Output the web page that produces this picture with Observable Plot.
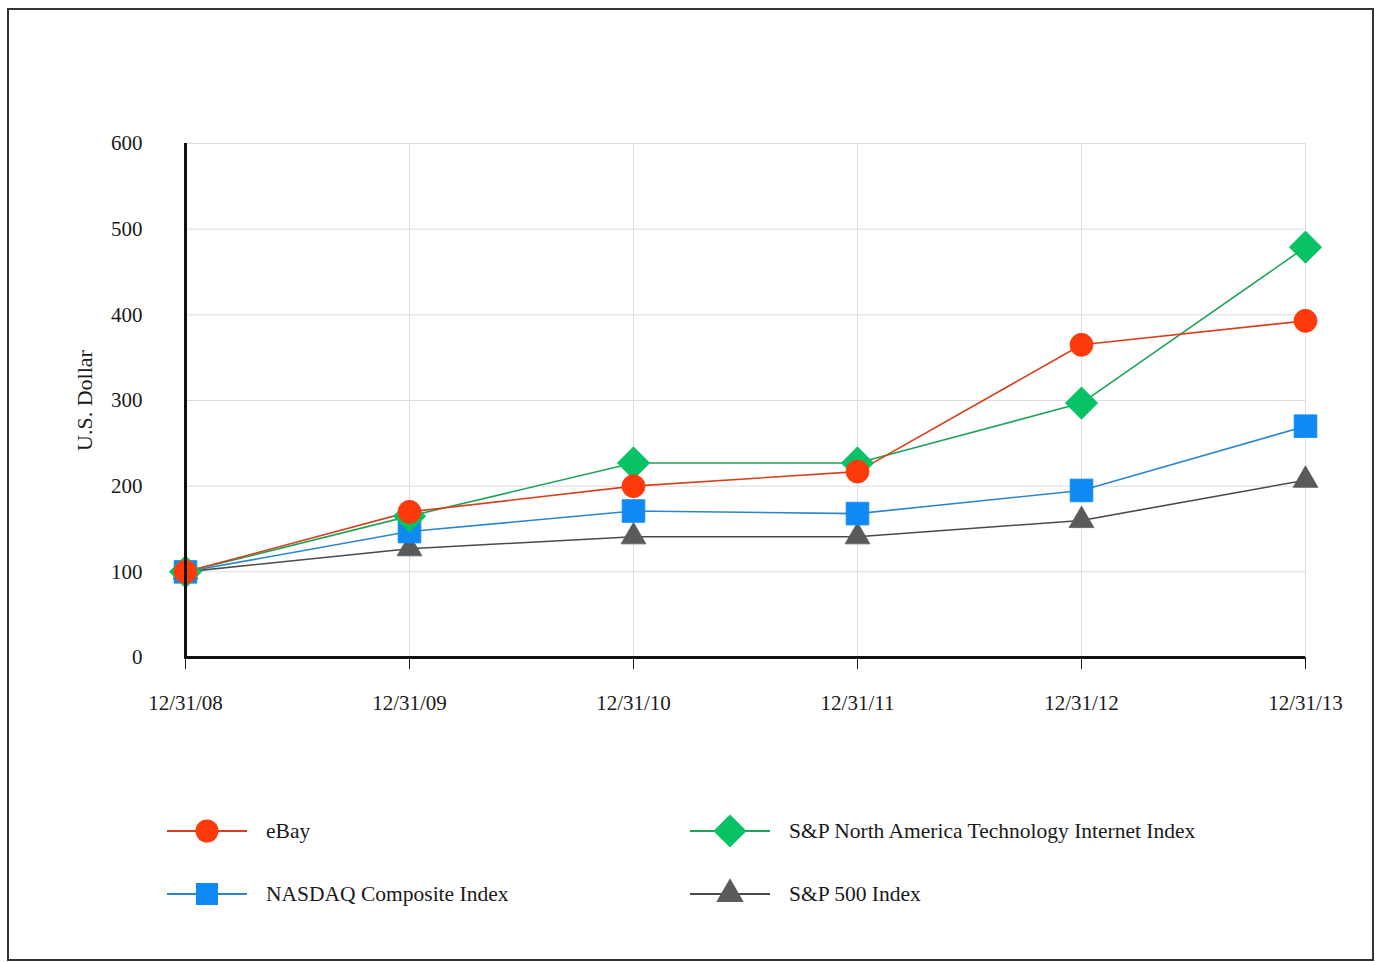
<!DOCTYPE html>
<html>
<head>
<meta charset="utf-8">
<script src="https://cdn.jsdelivr.net/npm/d3@7"></script>
<script src="https://cdn.jsdelivr.net/npm/@observablehq/plot@0.6"></script>
<style>
  html, body { margin: 0; padding: 0; background: #fff; }
  body { width: 1375px; height: 962px; position: relative; overflow: hidden; font-family: "Liberation Serif", "DejaVu Serif", serif; color: #1a1a1a; }
  #frame { position: absolute; left: 7px; top: 8px; width: 1367px; height: 953px; border: 2px solid #333; box-sizing: border-box; }
  #chart { position: absolute; left: 0; top: 0; }
  .leg { position: absolute; display: flex; align-items: center; font-size: 21.5px; }
  .leg svg { display: block; margin-right: 19px; }
</style>
</head>
<body>
<div id="frame"></div>
<div id="chart"></div>
<div id="legend"></div>
<script>
const dates = ["12/31/08", "12/31/09", "12/31/10", "12/31/11", "12/31/12", "12/31/13"];
const seriesNames = ["eBay", "NASDAQ Composite Index", "S&P North America Technology Internet Index", "S&P 500 Index"];
const ebay = [100, 170, 200, 217, 365, 393];
const nasdaq = [100, 147, 171, 168, 195, 270];
const techInternet = [100, 165, 227, 227, 297, 479];
const sp500 = [100, 127, 141, 141, 160, 207];
const yTicks = [0, 100, 200, 300, 400, 500, 600];
const lineColors = ["#d8401c", "#2b86cc", "#1fa35c", "#4a4a4a"];
const markColors = ["#ff3a0a", "#0f8af5", "#06c264", "#5a5a5a"];

const diamond = {
  draw(context, size) {
    const d = Math.sqrt(size / 2);
    context.moveTo(0, -d); context.lineTo(d, 0); context.lineTo(0, d); context.lineTo(-d, 0); context.closePath();
  }
};
const symbols = ["circle", "square", diamond, "triangle"];
const radii = [11.5, 12.8, 12.9, 9.2];

const values = [ebay, nasdaq, techInternet, sp500];
// draw order: S&P 500, NASDAQ, Tech Internet, eBay on top
const order = [3, 1, 2, 0];
const rows = [];
for (const i of order) {
  dates.forEach((d, j) => rows.push({date: d, value: values[i][j], series: seriesNames[i], k: i}));
}

const marks = [
  Plot.ruleX(dates, {y1: 0, y2: 600, stroke: "#dcdcdc", strokeWidth: 1}),
  Plot.ruleY(yTicks.filter(v => v > 0), {stroke: "#dcdcdc", strokeWidth: 1}),
  Plot.axisY({ticks: yTicks, tickSize: 12, tickPadding: 30, label: "U.S. Dollar", labelAnchor: "center", labelArrow: "none", labelOffset: 108, fontSize: 21, stroke: null}),
  Plot.axisX({tickSize: 12, tickPadding: 26, label: null, fontSize: 21}),
];
for (const i of order) {
  const data = rows.filter(r => r.k === i);
  marks.push(Plot.line(data, {x: "date", y: "value", stroke: lineColors[i], strokeWidth: 1.6}));
}
for (const i of order) {
  const data = rows.filter(r => r.k === i);
  marks.push(Plot.dot(data, {x: "date", y: "value", symbol: () => symbols[i], r: radii[i], fill: markColors[i], stroke: markColors[i], strokeWidth: 0.8}));
}
marks.push(Plot.ruleX([dates[0]], {y1: 0, y2: 600, stroke: "#111", strokeWidth: 3}));
marks.push(Plot.ruleY([0], {stroke: "#111", strokeWidth: 3}));

const chart = Plot.plot({
  width: 1375,
  height: 760,
  marginLeft: 184,
  marginRight: 70,
  marginTop: 143,
  marginBottom: 103,
  style: {fontFamily: "'Liberation Serif', serif", fontSize: "21px", color: "#1a1a1a", background: "transparent"},
  x: {type: "point", domain: dates, padding: 0},
  y: {domain: [0, 600]},
  marks
});
chart.querySelectorAll("[aria-label='y-axis label'] text").forEach(t => t.setAttribute("font-size", "22"));
document.getElementById("chart").appendChild(chart);

// legend
const legendPos = [[167, 831], [167, 894], [690, 831], [690, 894]];
const legend = document.getElementById("legend");
seriesNames.forEach((name, i) => {
  const [x, y] = legendPos[i];
  const item = document.createElement("div");
  item.className = "leg";
  item.style.left = x + "px";
  item.style.top = (y - 20) + "px";
  item.style.height = "40px";
  const svg = d3.create("svg").attr("width", 80).attr("height", 40);
  svg.append("line").attr("x1", 0).attr("x2", 80).attr("y1", 20).attr("y2", 20).attr("stroke", lineColors[i]).attr("stroke-width", 2.2);
  const d3sym = {circle: d3.symbolCircle, square: d3.symbolSquare, triangle: d3.symbolTriangle}[symbols[i]] || symbols[i];
  const legR = [11.5, 12.4, 13.2, 10.2][i];
  svg.append("path").attr("transform", "translate(40,20)").attr("d", d3.symbol(d3sym, Math.PI * legR * legR)()).attr("fill", markColors[i]);
  item.appendChild(svg.node());
  const span = document.createElement("span");
  span.textContent = name;
  item.appendChild(span);
  legend.appendChild(item);
});
</script>
</body>
</html>
